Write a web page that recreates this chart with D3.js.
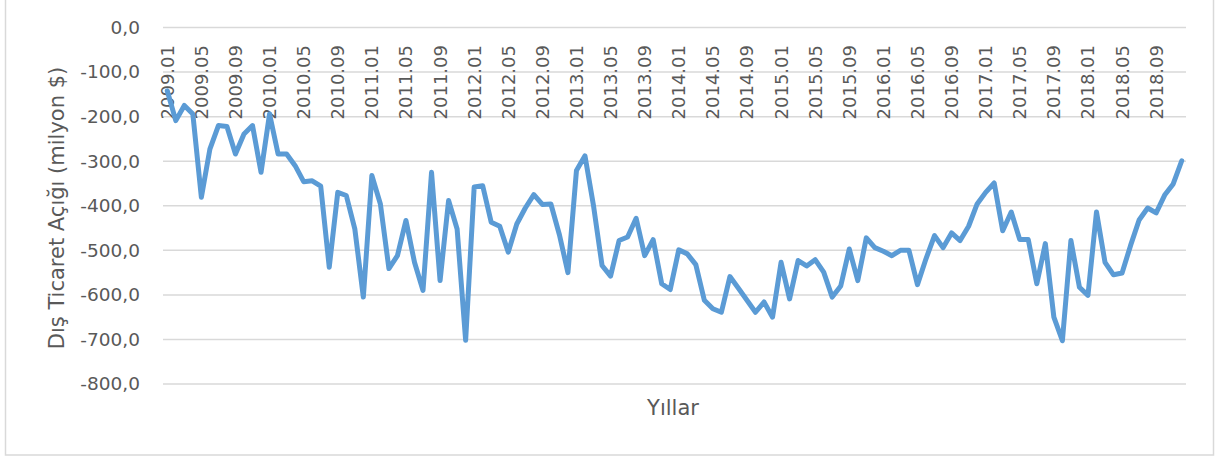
<!DOCTYPE html>
<html>
<head>
<meta charset="utf-8">
<script src="https://cdn.jsdelivr.net/npm/d3@7"></script>
<style>
  body { margin: 0; background: #fff; }
  svg text { font-family: "DejaVu Sans", sans-serif; fill: #595959; }
</style>
</head>
<body>
<svg class="linechart" width="1215" height="459"></svg>
<script>
// months 2009.01 .. 2018.12
var years = d3.range(2009, 2019);
var months = [];
years.forEach(function(y) {
    d3.range(1, 13).forEach(function(m) {
        months.push(y + "." + (m < 10 ? "0" + m : m));
    });
});

// foreign trade deficit, million $
var deficit = [
    -142, -209, -175, -194, -381, -273, -220, -222, -284, -239, -220, -325,
    -194, -284, -284, -310, -346, -344, -356, -538, -370, -377, -452, -605,
    -332, -396, -541, -512, -433, -527, -590, -325, -568, -388, -452, -702,
    -358, -355, -437, -446, -504, -441, -405, -375, -397, -396, -465, -550,
    -321, -288, -400, -534, -558, -478, -470, -428, -512, -476, -575, -588,
    -499, -508, -532, -612, -631, -639, -559, -585, -612, -639, -616, -650,
    -527, -609, -523, -535, -521, -549, -605, -580, -497, -568, -472, -494,
    -502, -512, -500, -500, -577, -519, -467, -494, -461, -478, -446, -396,
    -370, -349, -456, -414, -476, -476, -575, -485, -650, -703, -478, -583,
    -601, -414, -527, -555, -551, -489, -432, -405, -416, -376, -351, -299
];

var yTicks = [0, -100, -200, -300, -400, -500, -600, -700, -800];
var xLabels = months.filter(function(d, i) { return i % 4 === 0; });

(function lineChartIIFE() {
    var svg = d3.select("svg.linechart");
    var plot = {left: 163, right: 1186, top: 27.5, bottom: 384};

    // chart border
    svg.append("rect")
        .attr("x", 5.5).attr("y", -2)
        .attr("width", 1208).attr("height", 457)
        .attr("fill", "none")
        .attr("stroke", "#d9d9d9")
        .attr("stroke-width", 1.5);

    var x = d3.scalePoint()
        .domain(months)
        .range([plot.left, plot.right])
        .padding(0.5);

    var y = d3.scaleLinear()
        .domain([0, -800])
        .range([plot.top, plot.bottom]);

    // gridlines
    svg.append("g")
        .selectAll("line")
        .data(yTicks)
        .join("line")
            .attr("x1", plot.left)
            .attr("x2", plot.right)
            .attr("y1", function(d) { return y(d); })
            .attr("y2", function(d) { return y(d); })
            .attr("stroke", "#d9d9d9")
            .attr("stroke-width", 1.5);

    // y axis labels
    var yAxis = svg.append("g")
        .attr("transform", "translate(" + plot.left + ",0)")
        .call(d3.axisLeft(y)
            .tickValues(yTicks)
            .tickSize(0)
            .tickPadding(23)
            .tickFormat(function(d) { return d3.format(".1f")(d).replace(".", ",").replace("−", "-"); }));
    yAxis.select(".domain").remove();
    yAxis.selectAll("text")
        .style("font-size", "18.5px")
        .attr("fill", "#595959");

    // x axis labels, rotated, hanging under the zero line
    svg.append("g")
        .selectAll("text")
        .data(xLabels)
        .join("text")
            .attr("transform", function(d) { return "translate(" + (x(d) + 6.5) + ",45) rotate(-90)"; })
            .style("text-anchor", "end")
            .style("font-size", "18px")
            .text(function(d) { return d; });

    // the line
    var line = d3.line()
        .x(function(d, i) { return x(months[i]); })
        .y(function(d) { return y(d); });

    svg.append("path")
        .datum(deficit)
        .attr("fill", "none")
        .attr("stroke", "#5b9bd5")
        .attr("stroke-width", 5)
        .attr("stroke-linejoin", "round")
        .attr("stroke-linecap", "round")
        .attr("d", line);

    // axis titles
    svg.append("text")
        .attr("x", 673)
        .attr("y", 415)
        .style("text-anchor", "middle")
        .style("font-size", "21px")
        .text("Yıllar");

    svg.append("text")
        .attr("transform", "translate(64,208) rotate(-90)")
        .style("text-anchor", "middle")
        .style("font-size", "21px")
        .text("Dış Ticaret Açığı (milyon $)");
})();
</script>
</body>
</html>
